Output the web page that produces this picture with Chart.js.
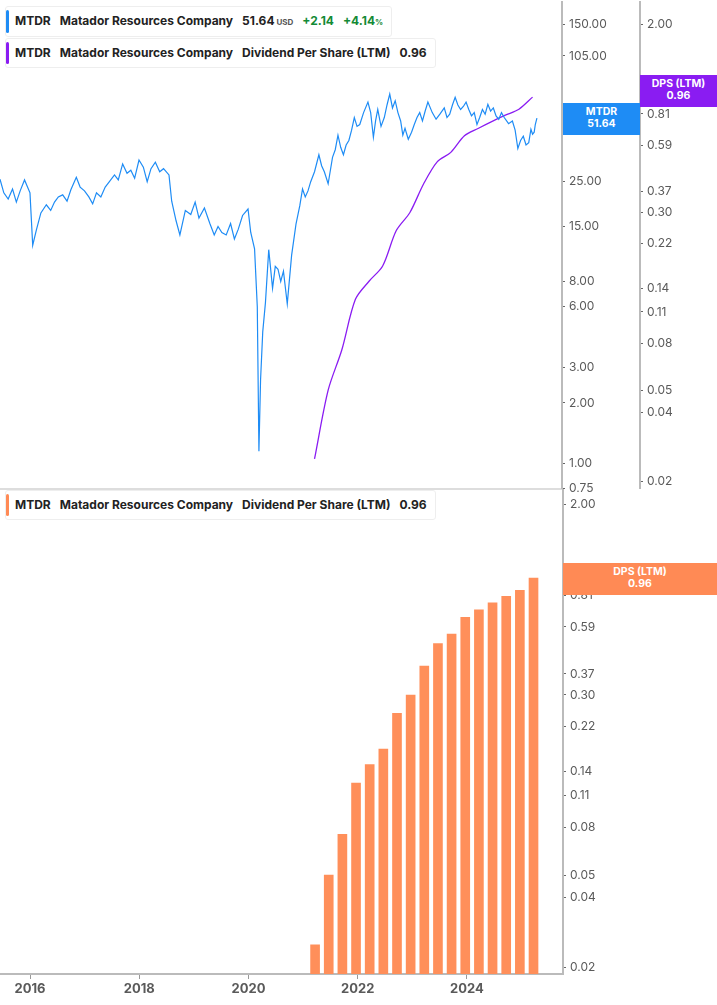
<!DOCTYPE html>
<html>
<head>
<meta charset="utf-8">
<script src="https://cdn.jsdelivr.net/npm/chart.js@4"></script>
<style>
  body { margin: 0; width: 717px; height: 1005px; position: relative; background: #fff; font-family: Inter, "Noto Sans", sans-serif; overflow: hidden; }
  .wrap { position: absolute; left: 0; width: 717px; }
  .tag { position: absolute; border: 1px solid #eee; border-radius: 3px; background: #fff; font-size: 12px; font-weight: 700; color: #222; padding: 0 8px 0 9px; line-height: 28px; white-space: nowrap; z-index: 2; }
  .tag::before { content: ""; position: absolute; left: 0; top: 3px; bottom: 3px; width: 3px; border-radius: 2px; background: var(--c); }
  .tag span { margin-right: 9px; }
  .flag { position: absolute; color: #fff; font-size: 10.5px; font-weight: 700; text-align: center; line-height: 12px; padding-top: 3px; z-index: 2; }
</style>
</head>
<body>
<div class="wrap" style="top:-9px;height:509px"><canvas id="top"></canvas></div>
<div class="wrap" style="top:479px;height:526px"><canvas id="bottom"></canvas></div>

<div class="tag" style="left:5px;top:6px;--c:#1e8cf5"><span>MTDR</span><span>Matador Resources Company</span><span>51.64<small style="font-size:8px;color:#555"> USD</small></span><span style="color:#138a36">+2.14</span><span style="color:#138a36;margin-right:0">+4.14<small style="font-size:8px">%</small></span></div>
<div class="tag" style="left:5px;top:38px;--c:#8a1cf2"><span>MTDR</span><span>Matador Resources Company</span><span>Dividend Per Share (LTM)</span><span style="margin-right:0">0.96</span></div>
<div class="tag" style="left:5px;top:490px;--c:#ff8a55"><span>MTDR</span><span>Matador Resources Company</span><span>Dividend Per Share (LTM)</span><span style="margin-right:0">0.96</span></div>

<div class="flag" style="left:563px;top:103px;width:77px;height:29px;background:#1e8cf5">MTDR<br>51.64</div>
<div class="flag" style="left:640px;top:75px;width:77px;height:29px;background:#8a1cf2">DPS (LTM)<br>0.96</div>
<div class="flag" style="left:563px;top:563px;width:154px;height:29px;background:#ff8a55">DPS (LTM)<br>0.96</div>

<script>
// price, decimal year
var priceYears = [2015.45, 2015.52, 2015.6, 2015.68, 2015.75, 2015.82, 2015.9, 2016.0, 2016.05, 2016.12, 2016.2, 2016.3, 2016.38, 2016.45, 2016.52, 2016.6, 2016.68, 2016.75, 2016.85, 2016.92, 2017.0, 2017.08, 2017.15, 2017.22, 2017.3, 2017.38, 2017.45, 2017.55, 2017.62, 2017.7, 2017.78, 2017.85, 2017.92, 2018.0, 2018.08, 2018.15, 2018.22, 2018.3, 2018.38, 2018.45, 2018.55, 2018.6, 2018.68, 2018.75, 2018.85, 2018.95, 2019.03, 2019.1, 2019.2, 2019.3, 2019.38, 2019.45, 2019.52, 2019.6, 2019.68, 2019.75, 2019.82, 2019.9, 2020.0, 2020.05, 2020.12, 2020.17, 2020.2, 2020.23, 2020.27, 2020.32, 2020.38, 2020.45, 2020.5, 2020.55, 2020.6, 2020.65, 2020.72, 2020.8, 2020.88, 2020.95, 2021.0, 2021.05, 2021.1, 2021.15, 2021.22, 2021.3, 2021.35, 2021.4, 2021.47, 2021.55, 2021.6, 2021.65, 2021.7, 2021.75, 2021.8, 2021.85, 2021.9, 2021.95, 2022.0, 2022.05, 2022.12, 2022.2, 2022.25, 2022.3, 2022.34, 2022.38, 2022.44, 2022.5, 2022.55, 2022.6, 2022.65, 2022.7, 2022.75, 2022.8, 2022.84, 2022.88, 2022.94, 2023.0, 2023.05, 2023.1, 2023.15, 2023.2, 2023.25, 2023.3, 2023.38, 2023.45, 2023.52, 2023.6, 2023.65, 2023.7, 2023.75, 2023.8, 2023.85, 2023.9, 2023.95, 2024.0, 2024.05, 2024.1, 2024.15, 2024.2, 2024.25, 2024.3, 2024.35, 2024.4, 2024.45, 2024.5, 2024.55, 2024.6, 2024.65, 2024.7, 2024.78, 2024.85, 2024.9, 2024.95, 2025.0, 2025.05, 2025.1, 2025.15, 2025.19, 2025.22, 2025.25, 2025.27, 2025.3, 2025.32, 2025.35, 2025.37, 2025.39, 2025.41];
var priceValues = [25.7, 22.0, 20.5, 23.0, 19.8, 22.5, 25.5, 22.0, 12.1, 14.5, 17.5, 19.2, 18.0, 19.8, 21.0, 21.5, 20.0, 22.8, 26.3, 23.5, 22.5, 21.0, 19.4, 22.0, 21.0, 23.5, 24.9, 27.0, 25.5, 30.6, 27.5, 28.5, 26.0, 32.0, 29.5, 25.0, 29.0, 31.2, 28.0, 29.0, 27.0, 20.0, 16.0, 13.6, 18.0, 17.2, 19.8, 16.5, 18.5, 15.5, 13.6, 15.0, 14.0, 13.6, 15.5, 13.0, 14.5, 17.0, 18.3, 14.0, 11.6, 6.0, 1.15, 2.6, 4.5, 6.3, 11.5, 7.4, 9.5, 9.2, 8.0, 9.0, 6.2, 10.8, 15.4, 19.0, 23.0, 21.0, 22.5, 25.0, 28.0, 34.0, 30.0, 28.0, 24.4, 33.0, 36.0, 42.5, 37.0, 34.0, 38.0, 40.0, 45.0, 52.0, 47.0, 48.0, 55.0, 62.0, 55.0, 41.5, 50.0, 57.0, 47.0, 52.0, 60.0, 68.0, 58.0, 63.0, 55.0, 50.0, 42.5, 46.0, 40.6, 44.0, 48.0, 52.0, 55.0, 50.0, 56.0, 62.0, 55.0, 51.0, 54.0, 58.0, 52.0, 54.0, 60.0, 65.5, 60.0, 57.0, 59.0, 62.0, 57.0, 53.0, 55.0, 48.0, 52.0, 57.0, 54.0, 60.5, 56.0, 58.0, 53.0, 51.0, 55.0, 52.0, 48.5, 50.0, 45.0, 36.5, 40.0, 42.0, 38.0, 39.0, 45.5, 43.0, 44.0, 48.0, 51.64];

// quarterly dividend per share (LTM)
var dpsYears = [2021.22, 2021.47, 2021.72, 2021.97, 2022.22, 2022.47, 2022.72, 2022.97, 2023.22, 2023.47, 2023.72, 2023.97, 2024.22, 2024.47, 2024.72, 2024.97, 2025.22];
var dpsValues = [0.025, 0.05, 0.075, 0.125, 0.15, 0.175, 0.25, 0.30, 0.40, 0.50, 0.55, 0.65, 0.70, 0.75, 0.80, 0.85, 0.96];

var priceTicks = [0.75, 1, 2, 3, 6, 8, 15, 25, 45, 55, 105, 150];
var dpsTicks = [0.02, 0.04, 0.05, 0.08, 0.11, 0.14, 0.22, 0.30, 0.37, 0.59, 0.81, 1.00, 2.00];
var yearTicks = [2016, 2018, 2020, 2022, 2024];

var X_MIN = 2015.45, X_MAX = 2025.76;
var grey = "#5a5a5a";

function pts(xs, ys) {
  return xs.map(function (x, i) { return { x: x, y: ys[i] }; });
}
function fixTicks(list) {
  return function (scale) { scale.ticks = list.map(function (v) { return { value: v }; }); };
}
function fixWidth(w) {
  return function (scale) { scale.width = w; };
}
var tickFont = { family: "Inter", size: 12 };
var rightAxis = function (min, max, list, w) {
  return {
    type: "logarithmic", position: "right", min: min, max: max,
    afterBuildTicks: fixTicks(list), afterFit: fixWidth(w),
    grid: { drawOnChartArea: false, tickLength: 3, color: "#666" },
    border: { color: "#bbb", width: 2 },
    ticks: { color: grey, font: tickFont, padding: 4, autoSkip: false,
      callback: function (v) { return Number(v).toFixed(2); } }
  };
};

new Chart(document.getElementById("top"), {
  data: {
    datasets: [
      { type: "line", data: pts(priceYears, priceValues), yAxisID: "y", borderColor: "#1e8cf5", borderWidth: 1.2, pointRadius: 0, tension: 0 },
      { type: "line", data: pts(dpsYears, dpsValues), yAxisID: "y2", borderColor: "#8a1cf2", borderWidth: 1.3, pointRadius: 0, tension: 0.3 }
    ]
  },
  options: {
    responsive: true, maintainAspectRatio: false, animation: false,
    layout: { padding: { top: 0, bottom: 3 } },
    plugins: { legend: { display: false }, tooltip: { enabled: false } },
    scales: {
      x: { type: "linear", min: X_MIN, max: X_MAX, offset: false, ticks: { display: false }, grid: { display: false, drawTicks: false }, border: { color: "#ddd", width: 2 }, afterFit: function (s) { s.height = 0; } },
      y: rightAxis(0.75, 194, priceTicks, 78),
      y2: rightAxis(0.0185, 2.5, dpsTicks.filter(function (v) { return v !== 1; }), 77)
    }
  }
});

new Chart(document.getElementById("bottom"), {
  data: {
    datasets: [
      { type: "bar", data: pts(dpsYears, dpsValues), backgroundColor: "#ff8f5a", barThickness: 9 }
    ]
  },
  options: {
    responsive: true, maintainAspectRatio: false, animation: false,
    layout: { padding: { top: 0 } },
    plugins: { legend: { display: false }, tooltip: { enabled: false } },
    scales: {
      x: { type: "linear", min: X_MIN, max: X_MAX, offset: false, afterBuildTicks: fixTicks(yearTicks), afterFit: function (s) { s.height = 31; },
        grid: { drawOnChartArea: false, offset: false, tickLength: 5, color: "#999" }, border: { color: "#bbb", width: 2 },
        ticks: { color: grey, font: { family: "Inter", size: 13, weight: "bold" }, padding: 2, callback: function (v) { return String(v); } } },
      y: rightAxis(0.0187, 2.3, dpsTicks, 154)
    }
  }
});
</script>
</body>
</html>
